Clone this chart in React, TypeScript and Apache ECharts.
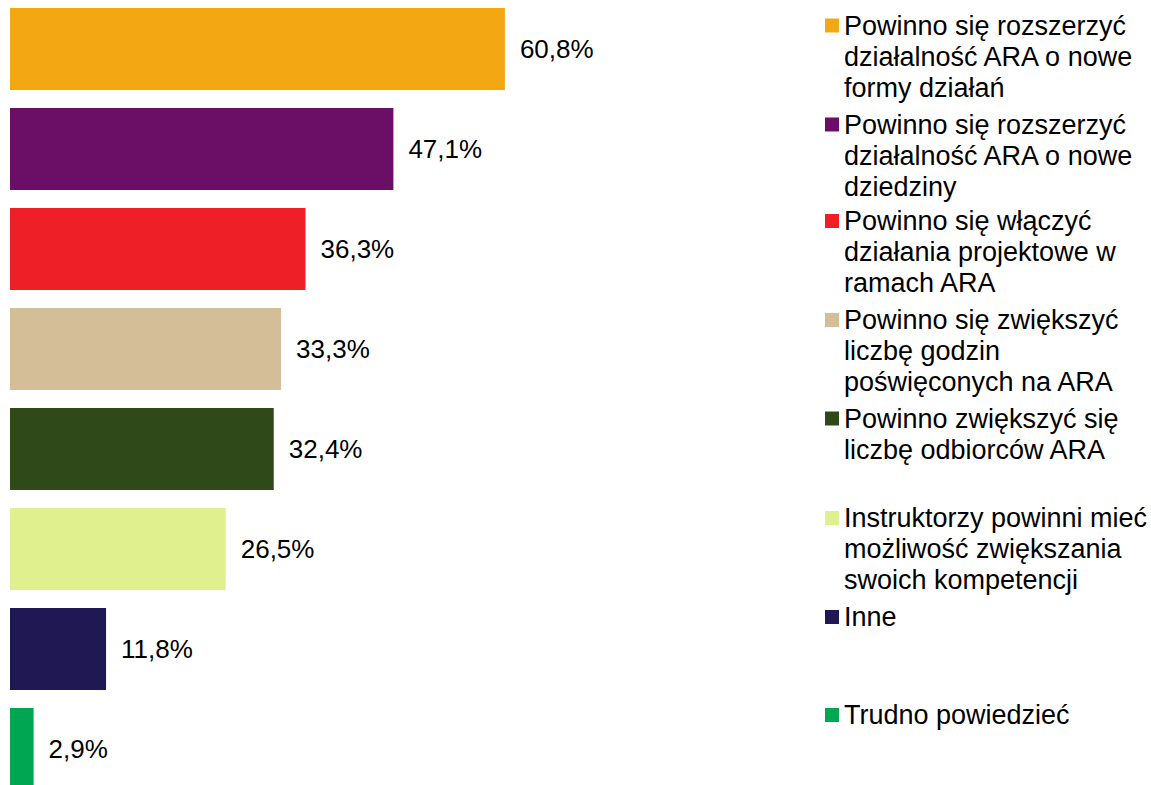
import React, { useEffect, useRef } from "react";
import * as echarts from "echarts";

const categories = [
  "Powinno się rozszerzyć\ndziałalność ARA o nowe\nformy działań",
  "Powinno się rozszerzyć\ndziałalność ARA o nowe\ndziedziny",
  "Powinno się włączyć\ndziałania projektowe w\nramach ARA",
  "Powinno się zwiększyć\nliczbę godzin\npoświęconych na ARA",
  "Powinno zwiększyć się\nliczbę odbiorców ARA",
  "Instruktorzy powinni mieć\nmożliwość zwiększania\nswoich kompetencji",
  "Inne",
  "Trudno powiedzieć",
];
const values = [60.8, 47.1, 36.3, 33.3, 32.4, 26.5, 11.8, 2.9];
const colors = ["#F2A713", "#6B0E65", "#EE1F26", "#D4BE97", "#2F4918", "#E0F08E", "#201852", "#00A651"];
const legendCenters = [25.5, 124.5, 221, 320, 418.5, 518, 617, 715];

const FONT = "'Liberation Sans', Arial, sans-serif";
const LH = 31;

export default function App() {
  const ref = useRef<HTMLDivElement>(null);
  useEffect(() => {
    if (!ref.current) return;
    const chart = echarts.init(ref.current, null, { renderer: "svg" });
    const series = categories.map((name, i) => ({
      name,
      type: "bar",
      stack: "all",
      barCategoryGap: "18%",
      itemStyle: { color: colors[i] },
      data: values.map((v, j) => (j === i ? v : null)),
      label: {
        show: true,
        position: "right",
        distance: 15,
        color: "#000",
        fontSize: 26,
        fontFamily: FONT,
        formatter: (p: any) => String(p.value).replace(".", ",") + "%",
      },
    }));
    const legends = categories.map((name, i) => {
      const n = name.split("\n").length;
      return {
        data: [name],
        orient: "vertical",
        left: 825,
        top: legendCenters[i] + 1 - (LH * (2 * n - 1)) / 2,
        padding: 0,
        icon: "rect",
        itemWidth: 14,
        itemHeight: 14,
        selectedMode: false,
        formatter: (nm: string) => "\n".repeat(n - 1) + nm,
        textStyle: {
          color: "#000",
          fontSize: 27,
          fontFamily: FONT,
          lineHeight: LH,
        },
      };
    });
    chart.setOption({
      animation: false,
      backgroundColor: "#fff",
      grid: { left: 10, top: 0, width: 814, height: 800 },
      xAxis: { type: "value", min: 0, max: 100, show: false },
      yAxis: {
        type: "category",
        data: categories,
        inverse: true,
        show: false,
      },
      legend: legends,
      series,
    });
    return () => chart.dispose();
  }, []);
  return (
    <div
      style={{
        position: "absolute",
        left: 0,
        top: 0,
        width: 1151,
        height: 785,
        overflow: "hidden",
        background: "#fff",
      }}
    >
      <div
        ref={ref}
        style={{ position: "absolute", left: 0, top: -1, width: 1151, height: 800 }}
      />
    </div>
  );
}
